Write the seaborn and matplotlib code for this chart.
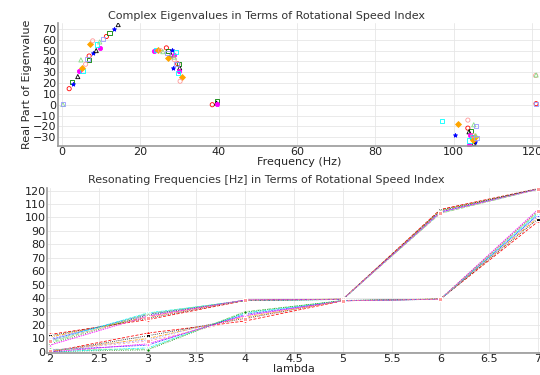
#import libraries
import numpy as np
import pandas as pd
import seaborn as sns
import matplotlib
matplotlib.use('Agg')
import matplotlib.pyplot as plt

#data - complex eigenvalues (frequency in Hz, real part)
rise_freq = [1.9, 2.7, 2.8, 4.1, 4.4, 5.3, 5.2, 6.1, 4.9, 6.6, 7.0, 7.0, 8.0, 8.8, 9.7, 9.0, 7.3, 7.9, 9.7, 10.5, 11.4, 12.2, 13.4, 14.4]
rise_real = [14.8, 21, 19.5, 26, 31, 31, 34, 37.4, 41.4, 42.6, 45, 41, 47.6, 50, 52.8, 55.6, 56, 59, 58, 60.5, 63, 66, 69.8, 74]

fall_freq = [23.6, 24.2, 24.5, 25.2, 25.8, 27.0, 26.7, 27.2, 28.2, 27.9, 28.7, 29.2, 27.2, 28.7, 28.7, 29.3, 29.6, 30.0, 28.3, 30.1, 29.9, 29.6, 30.6, 30.2]
fall_real = [50, 50.4, 50.2, 50, 49, 48, 52.5, 50, 51, 46, 46, 48.6, 43.5, 41.6, 44, 38, 37.7, 38, 34, 34, 31.5, 29, 26, 21.7]

low_freq = [0.3, 0.4, 38.4, 39.6, 39.7, 39.5, 39.6]
low_real = [0.2, 0.5, 0, 3, 0.5, 1.5, 0.8]

neg_freq = [97.1, 101.2, 103.6, 105.1, 105.6, 103.6, 104.4, 100.3, 103.9, 104.2, 104.8, 105.4, 104.9, 105.6, 105.8, 105.2, 104.6, 105.5, 105.1, 103.8, 104.0, 105.0]
neg_real = [-15, -17.8, -14.2, -18.5, -20, -21.6, -24, -27.5, -25, -27.5, -30, -30, -28.5, -28.5, -31, -32, -30, -34, -35.8, -37.6, -33, -32.5]

right_freq = [120.9, 121.0, 120.9, 121.0]
right_real = [27, 27.5, 0.6, 1.0]

#data - resonating frequencies vs rotational speed index
lam = [2, 3, 4, 5, 6, 7]
upper_modes = [
    [13, 24, 38.2, 39.2, 106, 121.5],
    [12, 25, 38.4, 39.0, 105.5, 121.2],
    [11, 26, 38.6, 39.3, 105, 121.0],
    [10, 27, 38.3, 39.1, 104.5, 120.8],
    [9, 28, 38.5, 39.2, 104, 121.3],
    [8, 29, 38.1, 39.0, 103.5, 121.1],
    [7, 28.5, 38.4, 39.3, 103, 120.9],
    [6, 27.5, 38.2, 39.1, 105, 121.4],
    [5, 26.5, 38.6, 39.2, 104, 121.0],
    [8.5, 25.5, 38.3, 39.0, 103.2, 121.2],
]
lower_modes = [
    [0, 14, 23, 38.0, 39.3, 97],
    [0, 12, 25, 38.2, 39.1, 99],
    [0.5, 10, 26, 38.1, 39.4, 100],
    [1, 9, 27, 38.3, 39.2, 101],
    [1.5, 5, 28, 38.0, 39.3, 102],
    [0, 3, 29, 38.2, 39.1, 103],
    [2, 2, 30, 38.1, 39.2, 104],
    [0.3, 1.5, 29.5, 38.3, 39.4, 105],
    [0, 6, 27, 38.0, 39.2, 106],
    [1, 8, 24.5, 38.2, 39.1, 104.5],
]

colors = ['red', 'green', 'blue', 'black', 'magenta', 'cyan', 'orange', '#ff9999', '#88dd88', '#9999ff']
markers = ['o', 's', '*', '^', 'o', 's', 'D', 'o', '^', 's']
filled = [False, False, True, False, True, False, True, False, False, False]

sns.set_theme(style='whitegrid')
plt.rcParams['font.family'] = ['DejaVu Sans']
plt.rcParams['axes.edgecolor'] = '#888888'
plt.rcParams['grid.color'] = '#e6e6e6'
plt.rcParams['grid.linewidth'] = 0.6

fig = plt.figure(figsize=(5.4, 3.75), dpi=100)
ax1 = fig.add_axes([0.107, 0.611, 0.893, 0.328])
ax2 = fig.add_axes([0.087, 0.059, 0.913, 0.44])

#top: complex eigenvalues scatter
freq = rise_freq + fall_freq + low_freq + neg_freq + right_freq
real = rise_real + fall_real + low_real + neg_real + right_real
pts = pd.DataFrame({'freq': freq, 'real': real})
pts['k'] = np.arange(len(pts)) % len(colors)
for k, grp in pts.groupby('k'):
    c = colors[k]
    sns.scatterplot(data=grp, x='freq', y='real', ax=ax1, marker=markers[k],
                    s=9, linewidth=0.6, edgecolor=c,
                    facecolor=c if filled[k] else 'none', legend=False)

ax1.set_xlim(-1, 122)
ax1.set_ylim(-38, 75.6)
ax1.set_xticks(np.arange(0, 121, 20))
ax1.set_yticks(np.arange(-30, 71, 10))
ax1.set_xlabel('Frequency (Hz)', fontsize=8, labelpad=0)
ax1.set_ylabel('Real Part of Eigenvalue', fontsize=8, labelpad=1)
fig.text(0.494, 0.957, 'Complex Eigenvalues in Terms of Rotational Speed Index', ha='center', va='center', fontsize=8, color='#333333')

#bottom: resonating frequencies lines
rows = []
for i, m in enumerate(upper_modes + lower_modes):
    for l, f in zip(lam, m):
        rows.append({'lambda': l, 'freq': f, 'mode': i})
lines = pd.DataFrame(rows)
styles = [(4, 2), (1, 1.5), (4, 1.5, 1, 1.5), (2, 2), (1, 1), (3, 1, 1, 1), (5, 2), (1, 2), (2, 1), (3, 3)]
n = len(upper_modes) + len(lower_modes)
pal = [colors[(i * 3) % len(colors)] for i in range(n)]
dash = [styles[i % len(styles)] for i in range(n)]
mk = [markers[i % len(markers)] for i in range(n)]
sns.lineplot(data=lines, x='lambda', y='freq', hue='mode', style='mode', palette=pal,
             dashes=dash, markers=mk, markersize=2.5, linewidth=0.55, ax=ax2, legend=False)

ax2.set_xlim(1.97, 7.02)
ax2.set_ylim(-0.7, 122)
ax2.set_xticks(np.arange(2, 7.01, 0.5))
ax2.set_xticklabels(['2', '2.5', '3', '3.5', '4', '4.5', '5', '5.5', '6', '6.5', '7'])
ax2.set_yticks(np.arange(0, 121, 10))
ax2.set_xlabel('lambda', fontsize=8, labelpad=0)
ax2.set_ylabel('')
fig.text(0.494, 0.52, 'Resonating Frequencies [Hz] in Terms of Rotational Speed Index', ha='center', va='center', fontsize=8, color='#333333')

for ax in (ax1, ax2):
    ax.tick_params(labelsize=8, pad=1, length=0, colors='#222222')
    for s in ['top', 'right']:
        ax.spines[s].set_visible(False)
    for s in ['left', 'bottom']:
        ax.spines[s].set_linewidth(1.2)
        ax.spines[s].set_color('#999999')

fig.savefig('out.png', dpi=100)
